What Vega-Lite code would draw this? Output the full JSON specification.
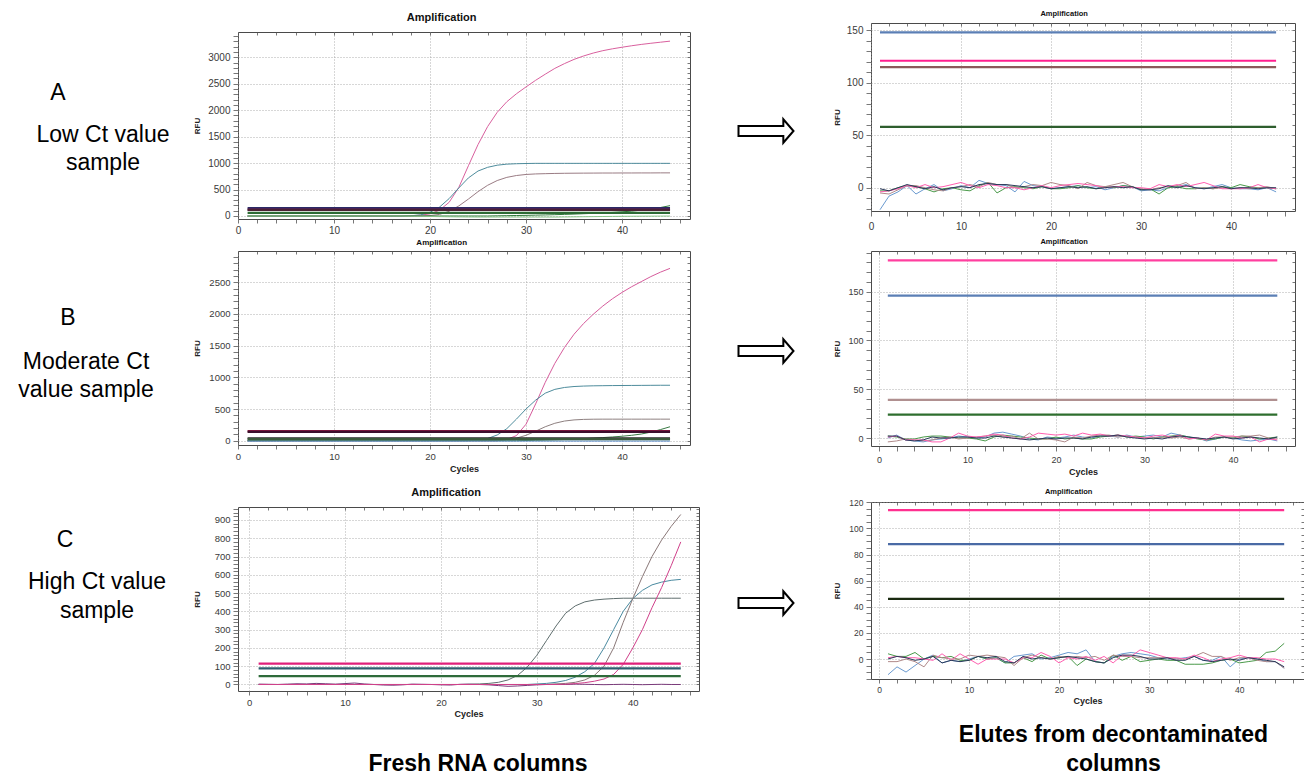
{
  "$schema": "https://vega.github.io/schema/vega-lite/v6.json",
  "padding": 0,
  "background": "white",
  "spacing": 0,
  "resolve": {"scale": {"color": "independent"}},
  "config": {
    "font": "Liberation Sans",
    "view": {"stroke": "#4a4a4a", "strokeWidth": 1},
    "axis": {"domain": false, "labelColor": "#3a3a3a", "tickColor": "#555", "tickWidth": 0.8, "gridColor": "#9a9a9a", "gridDash": [1, 2], "gridWidth": 0.8, "titleFontWeight": "bold", "titleColor": "#222", "labelFlush": false, "labelOverlap": false, "labelPadding": 2, "labelFont": "Liberation Sans", "titleFont": "Liberation Sans"},
    "title": {"fontWeight": "bold", "color": "#111", "anchor": "middle", "font": "Liberation Sans"}
  },
  "datasets": {
    "la": [
      {"x":1,"p":0,"t":0,"m":0,"g":0,"l":0},{"x":2,"p":0,"t":0,"m":0,"g":0,"l":0},{"x":3,"p":0,"t":0,"m":0,"g":0,"l":0},{"x":4,"p":0,"t":0,"m":0,"g":0,"l":0},{"x":5,"p":0,"t":0,"m":0,"g":0,"l":0},{"x":6,"p":0,"t":0,"m":0,"g":0,"l":0},{"x":7,"p":0,"t":0,"m":0,"g":0,"l":0},{"x":8,"p":0,"t":0,"m":0,"g":0,"l":0},{"x":9,"p":0,"t":0,"m":0,"g":0,"l":0},{"x":10,"p":0,"t":0,"m":0,"g":0,"l":0},{"x":11,"p":0,"t":0,"m":0,"g":0,"l":0},{"x":12,"p":0,"t":0,"m":0,"g":0,"l":0},{"x":13,"p":0,"t":0,"m":0,"g":0,"l":0},{"x":14,"p":0,"t":0,"m":0,"g":0,"l":0},{"x":15,"p":0,"t":0,"m":0,"g":0,"l":0},{"x":16,"p":0,"t":0,"m":0,"g":0,"l":0},
      {"x":17,"p":1,"t":0,"m":0,"g":0,"l":0},{"x":18,"p":5,"t":5,"m":0,"g":0,"l":-3},{"x":19,"p":15,"t":20,"m":0,"g":0,"l":-6},{"x":20,"p":40,"t":70,"m":8,"g":0,"l":-9},{"x":21,"p":110,"t":170,"m":30,"g":0,"l":-12},{"x":22,"p":260,"t":330,"m":90,"g":0,"l":-15},{"x":23,"p":540,"t":530,"m":190,"g":0,"l":-17},{"x":24,"p":950,"t":720,"m":320,"g":0,"l":-19},{"x":25,"p":1350,"t":850,"m":460,"g":0,"l":-20},{"x":26,"p":1690,"t":920,"m":580,"g":0,"l":-20},{"x":27,"p":1960,"t":960,"m":670,"g":3,"l":-20},{"x":28,"p":2160,"t":980,"m":730,"g":6,"l":-20},{"x":29,"p":2310,"t":988,"m":765,"g":9,"l":-20},{"x":30,"p":2440,"t":992,"m":785,"g":12,"l":-20},
      {"x":31,"p":2565,"t":995,"m":795,"g":16,"l":-20},{"x":32,"p":2680,"t":995,"m":800,"g":20,"l":-20},{"x":33,"p":2790,"t":995,"m":804,"g":25,"l":-20},{"x":34,"p":2880,"t":995,"m":807,"g":30,"l":-18},{"x":35,"p":2960,"t":995,"m":809,"g":36,"l":-16},{"x":36,"p":3025,"t":995,"m":810,"g":43,"l":-14},{"x":37,"p":3080,"t":995,"m":811,"g":50,"l":-12},{"x":38,"p":3125,"t":995,"m":812,"g":58,"l":-10},{"x":39,"p":3160,"t":995,"m":812,"g":67,"l":-8},{"x":40,"p":3190,"t":995,"m":813,"g":78,"l":-6},{"x":41,"p":3218,"t":995,"m":813,"g":92,"l":-5},{"x":42,"p":3243,"t":995,"m":814,"g":110,"l":-4},{"x":43,"p":3265,"t":995,"m":814,"g":132,"l":-3},{"x":44,"p":3285,"t":995,"m":815,"g":160,"l":-2},{"x":45,"p":3305,"t":995,"m":815,"g":195,"l":-1}
    ],
    "lat": [{"s":"T1","y":148},{"s":"T2","y":121},{"s":"T3","y":115},{"s":"T4","y":58}],
    "lb": [
      {"x":1,"p":0,"t":0,"m":0,"g":0,"b":-6},{"x":2,"p":0,"t":0,"m":0,"g":0,"b":-6},{"x":3,"p":0,"t":0,"m":0,"g":0,"b":-6},{"x":4,"p":0,"t":0,"m":0,"g":0,"b":-6},{"x":5,"p":0,"t":0,"m":0,"g":0,"b":-6},{"x":6,"p":0,"t":0,"m":0,"g":0,"b":-6},{"x":7,"p":0,"t":0,"m":0,"g":0,"b":-6},{"x":8,"p":0,"t":0,"m":0,"g":0,"b":-6},{"x":9,"p":0,"t":0,"m":0,"g":0,"b":-6},{"x":10,"p":0,"t":0,"m":0,"g":0,"b":-6},{"x":11,"p":0,"t":0,"m":0,"g":0,"b":-6},{"x":12,"p":0,"t":0,"m":0,"g":0,"b":-6},{"x":13,"p":0,"t":0,"m":0,"g":0,"b":-6},{"x":14,"p":0,"t":0,"m":0,"g":0,"b":-6},{"x":15,"p":0,"t":0,"m":0,"g":0,"b":-6},{"x":16,"p":0,"t":0,"m":0,"g":0,"b":-6},{"x":17,"p":0,"t":0,"m":0,"g":0,"b":-6},{"x":18,"p":0,"t":0,"m":0,"g":0,"b":-6},{"x":19,"p":0,"t":0,"m":0,"g":0,"b":-6},{"x":20,"p":0,"t":0,"m":0,"g":0,"b":-6},{"x":21,"p":0,"t":0,"m":0,"g":0,"b":-6},{"x":22,"p":0,"t":0,"m":0,"g":0,"b":-6},{"x":23,"p":0,"t":0,"m":0,"g":0,"b":-6},{"x":24,"p":0,"t":0,"m":0,"g":0,"b":-6},
      {"x":25,"p":0,"t":10,"m":0,"g":0,"b":-6},{"x":26,"p":0,"t":35,"m":0,"g":0,"b":-6},{"x":27,"p":0,"t":90,"m":0,"g":0,"b":-6},{"x":28,"p":20,"t":190,"m":15,"g":0,"b":-6},{"x":29,"p":80,"t":340,"m":40,"g":0,"b":-6},{"x":30,"p":260,"t":500,"m":85,"g":3,"b":-6},{"x":31,"p":580,"t":640,"m":150,"g":6,"b":-6},{"x":32,"p":920,"t":750,"m":220,"g":10,"b":-6},{"x":33,"p":1220,"t":810,"m":275,"g":14,"b":-6},{"x":34,"p":1470,"t":840,"m":310,"g":19,"b":-6},{"x":35,"p":1680,"t":855,"m":328,"g":25,"b":-6},{"x":36,"p":1850,"t":862,"m":336,"g":32,"b":-6},{"x":37,"p":1995,"t":866,"m":339,"g":40,"b":-6},{"x":38,"p":2125,"t":868,"m":340,"g":49,"b":-6},{"x":39,"p":2240,"t":870,"m":340,"g":59,"b":-6},{"x":40,"p":2340,"t":871,"m":340,"g":70,"b":-6},{"x":41,"p":2430,"t":872,"m":340,"g":85,"b":-6},{"x":42,"p":2510,"t":873,"m":340,"g":105,"b":-6},{"x":43,"p":2590,"t":874,"m":340,"g":135,"b":-6},{"x":44,"p":2660,"t":875,"m":340,"g":175,"b":-6},{"x":45,"p":2720,"t":875,"m":340,"g":220,"b":-6}
    ],
    "lbt": [{"s":"T1","y":150},{"s":"T2","y":138},{"s":"T3","y":35},{"s":"T4","y":24}],
    "lc": [
      {"x":1,"k":0,"t":0,"m":0,"p":0,"v":2},{"x":2,"k":0,"t":0,"m":0,"p":0,"v":1},{"x":3,"k":0,"t":0,"m":0,"p":0,"v":0},{"x":4,"k":0,"t":0,"m":0,"p":0,"v":2},{"x":5,"k":0,"t":0,"m":0,"p":0,"v":4},{"x":6,"k":0,"t":0,"m":0,"p":0,"v":3},{"x":7,"k":0,"t":0,"m":0,"p":0,"v":6},{"x":8,"k":0,"t":0,"m":0,"p":0,"v":4},{"x":9,"k":0,"t":0,"m":0,"p":0,"v":2},{"x":10,"k":0,"t":0,"m":0,"p":0,"v":5},{"x":11,"k":0,"t":0,"m":0,"p":0,"v":8},{"x":12,"k":0,"t":0,"m":0,"p":0,"v":3},{"x":13,"k":0,"t":0,"m":0,"p":0,"v":0},{"x":14,"k":0,"t":0,"m":0,"p":0,"v":-3},{"x":15,"k":0,"t":0,"m":0,"p":0,"v":-4},{"x":16,"k":0,"t":0,"m":0,"p":0,"v":-2},{"x":17,"k":0,"t":0,"m":0,"p":0,"v":2},{"x":18,"k":0,"t":0,"m":0,"p":0,"v":1},{"x":19,"k":0,"t":0,"m":0,"p":0,"v":0},{"x":20,"k":0,"t":0,"m":0,"p":0,"v":-2},{"x":21,"k":0,"t":0,"m":0,"p":0,"v":-3},{"x":22,"k":0,"t":0,"m":0,"p":0,"v":1},
      {"x":23,"k":1,"t":0,"m":0,"p":0,"v":2},{"x":24,"k":3,"t":0,"m":0,"p":0,"v":0},{"x":25,"k":6,"t":0,"m":0,"p":0,"v":-2},{"x":26,"k":12,"t":0,"m":0,"p":0,"v":-6},{"x":27,"k":25,"t":0,"m":0,"p":0,"v":-10},{"x":28,"k":50,"t":0,"m":0,"p":0,"v":-8},{"x":29,"k":95,"t":0,"m":0,"p":0,"v":-5},{"x":30,"k":160,"t":3,"m":0,"p":0,"v":-2},{"x":31,"k":240,"t":6,"m":0,"p":0,"v":0},{"x":32,"k":320,"t":12,"m":3,"p":0,"v":1},{"x":33,"k":390,"t":22,"m":6,"p":2,"v":0},{"x":34,"k":430,"t":40,"m":12,"p":5,"v":2},{"x":35,"k":452,"t":70,"m":25,"p":10,"v":1},{"x":36,"k":462,"t":115,"m":50,"p":18,"v":0},{"x":37,"k":467,"t":200,"m":100,"p":30,"v":-1},{"x":38,"k":470,"t":300,"m":200,"p":55,"v":0},{"x":39,"k":472,"t":400,"m":340,"p":110,"v":1},{"x":40,"k":472,"t":470,"m":470,"p":200,"v":0},{"x":41,"k":472,"t":515,"m":590,"p":300,"v":-1},{"x":42,"k":472,"t":545,"m":700,"p":420,"v":0},{"x":43,"k":472,"t":560,"m":790,"p":530,"v":1},{"x":44,"k":472,"t":570,"m":865,"p":650,"v":0},{"x":45,"k":472,"t":575,"m":930,"p":780,"v":0}
    ],
    "lct": [{"s":"T1","y":114},{"s":"T2","y":88},{"s":"T3","y":46}],
    "ra": [
      {"x":1,"b":-21,"g":-3,"r":-5,"p":-4,"k":-1},{"x":2,"b":-8,"g":-3,"r":-6,"p":-3,"k":-3},{"x":3,"b":-4,"g":0,"r":-2,"p":-1,"k":0},{"x":4,"b":2,"g":2,"r":2,"p":2,"k":3},{"x":5,"b":-6,"g":1,"r":2,"p":0,"k":1},{"x":6,"b":-1,"g":-1,"r":0,"p":3,"k":-1},{"x":7,"b":3,"g":-4,"r":-2,"p":0,"k":1},{"x":8,"b":-3,"g":-1,"r":-3,"p":1,"k":-2},{"x":9,"b":-1,"g":0,"r":0,"p":3,"k":0},{"x":10,"b":2,"g":-2,"r":1,"p":5,"k":1},
      {"x":11,"b":0,"g":-3,"r":3,"p":2,"k":0},{"x":12,"b":7,"g":2,"r":1,"p":0,"k":3},{"x":13,"b":4,"g":5,"r":5,"p":3,"k":4},{"x":14,"b":3,"g":-5,"r":3,"p":2,"k":3},{"x":15,"b":2,"g":0,"r":3,"p":0,"k":3},{"x":16,"b":-4,"g":1,"r":0,"p":0,"k":2},{"x":17,"b":6,"g":0,"r":1,"p":-2,"k":1},{"x":18,"b":2,"g":-1,"r":3,"p":0,"k":0},{"x":19,"b":1,"g":1,"r":2,"p":2,"k":1},{"x":20,"b":-1,"g":-1,"r":5,"p":0,"k":-1},
      {"x":21,"b":0,"g":-1,"r":3,"p":2,"k":0},{"x":22,"b":1,"g":0,"r":2,"p":3,"k":1},{"x":23,"b":2,"g":2,"r":-1,"p":4,"k":0},{"x":24,"b":0,"g":0,"r":5,"p":3,"k":1},{"x":25,"b":1,"g":-1,"r":2,"p":2,"k":-1},{"x":26,"b":-2,"g":1,"r":1,"p":0,"k":0},{"x":27,"b":0,"g":0,"r":3,"p":1,"k":1},{"x":28,"b":2,"g":2,"r":5,"p":1,"k":0},{"x":29,"b":1,"g":1,"r":1,"p":0,"k":1},{"x":30,"b":-3,"g":-2,"r":-1,"p":0,"k":-2},
      {"x":31,"b":-2,"g":-1,"r":-2,"p":-1,"k":-2},{"x":32,"b":-3,"g":-6,"r":0,"p":3,"k":-1},{"x":33,"b":0,"g":0,"r":1,"p":1,"k":2},{"x":34,"b":1,"g":1,"r":2,"p":3,"k":0},{"x":35,"b":3,"g":-1,"r":5,"p":1,"k":2},{"x":36,"b":0,"g":-1,"r":-1,"p":3,"k":0},{"x":37,"b":-1,"g":0,"r":0,"p":5,"k":-1},{"x":38,"b":1,"g":-1,"r":-1,"p":2,"k":0},{"x":39,"b":3,"g":1,"r":0,"p":-1,"k":1},{"x":40,"b":0,"g":0,"r":-1,"p":-1,"k":-1},
      {"x":41,"b":-1,"g":3,"r":0,"p":-1,"k":0},{"x":42,"b":-1,"g":1,"r":-1,"p":0,"k":0},{"x":43,"b":-2,"g":0,"r":0,"p":3,"k":-1},{"x":44,"b":0,"g":0,"r":1,"p":0,"k":0},{"x":45,"b":-4,"g":-1,"r":-1,"p":-1,"k":0}
    ],
    "rat": [{"s":"T1","y":148},{"s":"T2","y":121},{"s":"T3","y":115},{"s":"T4","y":58}],
    "rb": [
      {"x":1,"b":0,"g":2,"r":-4,"p":1,"k":2},{"x":2,"b":3,"g":1,"r":-3,"p":2,"k":2},{"x":3,"b":-2,"g":-1,"r":-1,"p":-2,"k":-2},{"x":4,"b":-3,"g":-1,"r":-2,"p":-2,"k":-3},{"x":5,"b":-4,"g":1,"r":-3,"p":-2,"k":-2},{"x":6,"b":-2,"g":2,"r":-2,"p":-4,"k":1},{"x":7,"b":-1,"g":2,"r":0,"p":-4,"k":0},{"x":8,"b":0,"g":1,"r":1,"p":0,"k":0},{"x":9,"b":2,"g":0,"r":-1,"p":5,"k":1},{"x":10,"b":1,"g":0,"r":0,"p":2,"k":1},
      {"x":11,"b":0,"g":-1,"r":1,"p":1,"k":0},{"x":12,"b":1,"g":-3,"r":2,"p":2,"k":0},{"x":13,"b":5,"g":1,"r":3,"p":4,"k":2},{"x":14,"b":6,"g":3,"r":1,"p":3,"k":1},{"x":15,"b":4,"g":2,"r":2,"p":0,"k":0},{"x":16,"b":2,"g":1,"r":-1,"p":-1,"k":-1},{"x":17,"b":-1,"g":0,"r":5,"p":1,"k":-2},{"x":18,"b":-2,"g":-1,"r":-1,"p":5,"k":-1},{"x":19,"b":1,"g":-1,"r":-1,"p":4,"k":0},{"x":20,"b":0,"g":1,"r":-2,"p":3,"k":-1},
      {"x":21,"b":1,"g":-1,"r":-4,"p":4,"k":0},{"x":22,"b":3,"g":0,"r":1,"p":2,"k":0},{"x":23,"b":1,"g":-1,"r":0,"p":5,"k":-1},{"x":24,"b":0,"g":-1,"r":2,"p":3,"k":1},{"x":25,"b":2,"g":1,"r":3,"p":4,"k":2},{"x":26,"b":2,"g":2,"r":3,"p":2,"k":2},{"x":27,"b":1,"g":3,"r":1,"p":3,"k":3},{"x":28,"b":3,"g":1,"r":2,"p":2,"k":1},{"x":29,"b":1,"g":2,"r":1,"p":1,"k":0},{"x":30,"b":2,"g":1,"r":0,"p":0,"k":-1},
      {"x":31,"b":3,"g":-1,"r":0,"p":2,"k":0},{"x":32,"b":1,"g":1,"r":1,"p":3,"k":-1},{"x":33,"b":5,"g":2,"r":0,"p":1,"k":1},{"x":34,"b":3,"g":3,"r":1,"p":3,"k":2},{"x":35,"b":1,"g":1,"r":-1,"p":-1,"k":1},{"x":36,"b":0,"g":-1,"r":0,"p":0,"k":0},{"x":37,"b":-3,"g":-2,"r":-2,"p":-2,"k":-1},{"x":38,"b":-1,"g":-1,"r":1,"p":4,"k":0},{"x":39,"b":1,"g":1,"r":1,"p":2,"k":1},{"x":40,"b":0,"g":0,"r":1,"p":2,"k":-1},
      {"x":41,"b":-2,"g":2,"r":2,"p":0,"k":0},{"x":42,"b":-3,"g":1,"r":2,"p":1,"k":1},{"x":43,"b":-2,"g":-1,"r":3,"p":-4,"k":0},{"x":44,"b":-1,"g":0,"r":0,"p":-1,"k":-1},{"x":45,"b":-3,"g":1,"r":-1,"p":-2,"k":1}
    ],
    "rbt": [{"s":"T1","y":182},{"s":"T2","y":146},{"s":"T3","y":39},{"s":"T4","y":24}],
    "rc": [
      {"x":1,"b":-12,"g":4,"r":-2,"p":1,"k":0},{"x":2,"b":-6,"g":2,"r":-2,"p":2,"k":2},{"x":3,"b":-10,"g":2,"r":0,"p":1,"k":1},{"x":4,"b":-5,"g":5,"r":-2,"p":1,"k":-1},{"x":5,"b":0,"g":0,"r":-6,"p":0,"k":0},{"x":6,"b":3,"g":2,"r":3,"p":-1,"k":2},{"x":7,"b":-3,"g":1,"r":1,"p":4,"k":-3},{"x":8,"b":-1,"g":2,"r":0,"p":-1,"k":-1},{"x":9,"b":-2,"g":-1,"r":0,"p":4,"k":-2},{"x":10,"b":0,"g":-1,"r":3,"p":0,"k":-1},
      {"x":11,"b":2,"g":2,"r":2,"p":-4,"k":2},{"x":12,"b":0,"g":0,"r":3,"p":0,"k":1},{"x":13,"b":1,"g":1,"r":2,"p":0,"k":2},{"x":14,"b":-3,"g":-3,"r":1,"p":0,"k":-2},{"x":15,"b":2,"g":-3,"r":-5,"p":-3,"k":-3},{"x":16,"b":3,"g":1,"r":1,"p":1,"k":2},{"x":17,"b":4,"g":-2,"r":3,"p":1,"k":0},{"x":18,"b":0,"g":3,"r":1,"p":5,"k":1},{"x":19,"b":1,"g":0,"r":0,"p":2,"k":0},{"x":20,"b":3,"g":1,"r":2,"p":-3,"k":1},
      {"x":21,"b":5,"g":2,"r":1,"p":1,"k":2},{"x":22,"b":4,"g":-5,"r":2,"p":0,"k":1},{"x":23,"b":7,"g":0,"r":1,"p":2,"k":0},{"x":24,"b":-2,"g":-2,"r":2,"p":-1,"k":-2},{"x":25,"b":-3,"g":-3,"r":-1,"p":2,"k":-3},{"x":26,"b":2,"g":3,"r":3,"p":-3,"k":1},{"x":27,"b":4,"g":-1,"r":2,"p":3,"k":3},{"x":28,"b":5,"g":2,"r":2,"p":2,"k":3},{"x":29,"b":4,"g":-2,"r":1,"p":7,"k":2},{"x":30,"b":3,"g":-1,"r":1,"p":5,"k":0},
      {"x":31,"b":1,"g":0,"r":1,"p":3,"k":0},{"x":32,"b":0,"g":-1,"r":1,"p":1,"k":1},{"x":33,"b":0,"g":-1,"r":0,"p":1,"k":-1},{"x":34,"b":1,"g":-4,"r":0,"p":0,"k":-1},{"x":35,"b":2,"g":-4,"r":2,"p":3,"k":2},{"x":36,"b":-1,"g":-4,"r":5,"p":1,"k":-1},{"x":37,"b":-1,"g":-3,"r":2,"p":-2,"k":-2},{"x":38,"b":2,"g":-1,"r":2,"p":0,"k":-1},{"x":39,"b":-6,"g":0,"r":-1,"p":1,"k":0},{"x":40,"b":0,"g":-3,"r":1,"p":3,"k":-1},
      {"x":41,"b":1,"g":-2,"r":1,"p":1,"k":1},{"x":42,"b":0,"g":-1,"r":-1,"p":1,"k":0},{"x":43,"b":-2,"g":5,"r":-2,"p":0,"k":-1},{"x":44,"b":-2,"g":6,"r":-2,"p":0,"k":-2},{"x":45,"b":-7,"g":12,"r":-7,"p":-2,"k":-6}
    ],
    "rct": [{"s":"T1","y":114},{"s":"T2","y":88},{"s":"T3","y":46}]
  },
  "hconcat": [
    {
      "spacing": 0,
      "bounds": "flush",
      "resolve": {"scale": {"color": "independent"}},
      "vconcat": [
        {"width": 192, "height": 225, "view": {"stroke": null},
         "data": {"values": [{"kind": "letter", "text": "A"}, {"kind": "desc", "text": ["Low Ct value", "sample"]}]},
         "mark": {"type": "text", "fontSize": 23, "lineHeight": 28, "color": "black", "baseline": "middle", "align": "center"},
         "encoding": {
           "x": {"field": "kind", "type": "nominal", "scale": {"domain": ["letter", "desc"], "range": [58, 103], "padding": 0}, "axis": null},
           "y": {"field": "kind", "type": "nominal", "scale": {"domain": ["letter", "desc"], "range": [93, 135], "padding": 0}, "axis": null},
           "text": {"field": "text"}
         }},
        {"width": 192, "height": 225, "view": {"stroke": null},
         "data": {"values": [{"kind": "letter", "text": "B"}, {"kind": "desc", "text": ["Moderate Ct", "value sample"]}]},
         "mark": {"type": "text", "fontSize": 23, "lineHeight": 28, "color": "black", "baseline": "middle", "align": "center"},
         "encoding": {
           "x": {"field": "kind", "type": "nominal", "scale": {"domain": ["letter", "desc"], "range": [68, 86], "padding": 0}, "axis": null},
           "y": {"field": "kind", "type": "nominal", "scale": {"domain": ["letter", "desc"], "range": [93, 137], "padding": 0}, "axis": null},
           "text": {"field": "text"}
         }},
        {"width": 192, "height": 225, "view": {"stroke": null},
         "data": {"values": [{"kind": "letter", "text": "C"}, {"kind": "desc", "text": ["High Ct value", "sample"]}]},
         "mark": {"type": "text", "fontSize": 23, "lineHeight": 29, "color": "black", "baseline": "middle", "align": "center"},
         "encoding": {
           "x": {"field": "kind", "type": "nominal", "scale": {"domain": ["letter", "desc"], "range": [65, 97], "padding": 0}, "axis": null},
           "y": {"field": "kind", "type": "nominal", "scale": {"domain": ["letter", "desc"], "range": [90, 132], "padding": 0}, "axis": null},
           "text": {"field": "text"}
         }}
      ]
    },
    {
      "spacing": 0,
      "bounds": "flush",
      "resolve": {"scale": {"color": "independent"}},
      "vconcat": [
        {"width": 10, "height": 32, "view": {"stroke": null}, "data": {"values": [{"e": 0}]}, "mark": {"type": "point", "opacity": 0}, "encoding": {}},
        {
          "width": 452, "height": 187,
          "title": {"text": "Amplification", "fontSize": 11, "frame": "bounds", "offset": 8},
          "layer": [
            {"data": {"name": "la"}, "transform": [{"fold": ["p", "t", "m", "g", "l"], "as": ["s", "y"]}],
             "mark": {"type": "line", "strokeWidth": 1, "clip": true},
             "encoding": {
               "x": {"field": "x", "type": "quantitative", "scale": {"domain": [0, 47.08], "nice": false, "zero": false},
                     "axis": {"orient": "bottom", "title": null, "values": [0,2,4,6,8,10,12,14,16,18,20,22,24,26,28,30,32,34,36,38,40,42,44,46], "labelExpr": "datum.value % 10 === 0 ? datum.label : ''", "format": "d", "tickSize": 4, "labelFontSize": 10, "grid": true, "gridOpacity": {"condition": {"test": "datum.value % 10 === 0", "value": 1}, "value": 0}}},
               "y": {"field": "y", "type": "quantitative", "scale": {"domain": [-57, 3478], "nice": false, "zero": false},
                     "axis": {"orient": "left", "title": "RFU", "values": [0,100,200,300,400,500,600,700,800,900,1000,1100,1200,1300,1400,1500,1600,1700,1800,1900,2000,2100,2200,2300,2400,2500,2600,2700,2800,2900,3000,3100,3200,3300,3400], "labelExpr": "datum.value % 500 === 0 ? datum.label : ''", "format": "d", "tickSize": 5, "labelPadding": 3, "labelFontSize": 10, "minExtent": 31, "maxExtent": 31, "titlePadding": 6, "titleFontSize": 8, "grid": true, "gridOpacity": {"condition": {"test": "datum.value % 500 === 0", "value": 1}, "value": 0}}},
               "color": {"field": "s", "type": "nominal", "scale": {"domain": ["p","t","m","g","l","T1","T2","T3","T4"], "range": ["#d9609e","#4e8c9c","#9a7c84","#2f7a3a","#86c486","#2b2a66","#6a1f5c","#4a1f33","#2d6b35"]}, "legend": null}
             }},
            {"data": {"name": "lat"}, "mark": {"type": "rule", "strokeWidth": 2.2},
             "encoding": {
               "x": {"datum": 1, "type": "quantitative", "axis": {"orient": "top", "title": null, "values": [0,2,4,6,8,10,12,14,16,18,20,22,24,26,28,30,32,34,36,38,40,42,44,46], "labels": false, "tickSize": -3, "grid": false}},
               "x2": {"datum": 45},
               "y": {"field": "y", "type": "quantitative", "axis": {"orient": "right", "title": null, "values": [0,100,200,300,400,500,600,700,800,900,1000,1100,1200,1300,1400,1500,1600,1700,1800,1900,2000,2100,2200,2300,2400,2500,2600,2700,2800,2900,3000,3100,3200,3300,3400], "labels": false, "tickSize": -3, "grid": false}},
               "color": {"field": "s", "type": "nominal", "scale": {"domain": ["p","t","m","g","l","T1","T2","T3","T4"], "range": ["#d9609e","#4e8c9c","#9a7c84","#2f7a3a","#86c486","#2b2a66","#6a1f5c","#4a1f33","#2d6b35"]}, "legend": null}
             }}
          ]
        },
        {"width": 10, "height": 32, "view": {"stroke": null}, "data": {"values": [{"e": 0}]}, "mark": {"type": "point", "opacity": 0}, "encoding": {}},
        {
          "width": 452, "height": 194,
          "title": {"text": "Amplification", "fontSize": 8, "frame": "bounds", "offset": 4},
          "layer": [
            {"data": {"name": "lb"}, "transform": [{"fold": ["p", "t", "m", "g", "b"], "as": ["s", "y"]}],
             "mark": {"type": "line", "strokeWidth": 1, "clip": true},
             "encoding": {
               "x": {"field": "x", "type": "quantitative", "scale": {"domain": [0, 47.08], "nice": false, "zero": false},
                     "axis": {"orient": "bottom", "title": "Cycles", "titleFontSize": 9, "titlePadding": 4, "values": [0,2,4,6,8,10,12,14,16,18,20,22,24,26,28,30,32,34,36,38,40,42,44,46], "labelExpr": "datum.value % 10 === 0 ? datum.label : ''", "format": "d", "tickSize": 4, "labelFontSize": 9.5, "grid": true, "gridOpacity": {"condition": {"test": "datum.value % 10 === 0", "value": 1}, "value": 0}}},
               "y": {"field": "y", "type": "quantitative", "scale": {"domain": [-68, 2994], "nice": false, "zero": false},
                     "axis": {"orient": "left", "title": "RFU", "values": [0,100,200,300,400,500,600,700,800,900,1000,1100,1200,1300,1400,1500,1600,1700,1800,1900,2000,2100,2200,2300,2400,2500,2600,2700,2800,2900], "labelExpr": "datum.value % 500 === 0 ? datum.label : ''", "format": "d", "tickSize": 5, "labelPadding": 3, "labelFontSize": 9.5, "minExtent": 31, "maxExtent": 31, "titlePadding": 6, "titleFontSize": 8, "grid": true, "gridOpacity": {"condition": {"test": "datum.value % 500 === 0", "value": 1}, "value": 0}}},
               "color": {"field": "s", "type": "nominal", "scale": {"domain": ["p","t","m","g","b","T1","T2","T3","T4"], "range": ["#d65c9c","#4e8c9c","#8e8080","#3a7a45","#5b8fd0","#8b1a40","#3d0f2d","#2a2a2a","#3b5b3b"]}, "legend": null}
             }},
            {"data": {"name": "lbt"}, "mark": {"type": "rule", "strokeWidth": 2.2},
             "encoding": {
               "x": {"datum": 1, "type": "quantitative", "axis": {"orient": "top", "title": null, "values": [0,2,4,6,8,10,12,14,16,18,20,22,24,26,28,30,32,34,36,38,40,42,44,46], "labels": false, "tickSize": -3, "grid": false}},
               "x2": {"datum": 45},
               "y": {"field": "y", "type": "quantitative", "axis": {"orient": "right", "title": null, "values": [0,100,200,300,400,500,600,700,800,900,1000,1100,1200,1300,1400,1500,1600,1700,1800,1900,2000,2100,2200,2300,2400,2500,2600,2700,2800,2900], "labels": false, "tickSize": -3, "grid": false}},
               "color": {"field": "s", "type": "nominal", "scale": {"domain": ["p","t","m","g","b","T1","T2","T3","T4"], "range": ["#d65c9c","#4e8c9c","#8e8080","#3a7a45","#5b8fd0","#8b1a40","#3d0f2d","#2a2a2a","#3b5b3b"]}, "legend": null}
             }}
          ]
        },
        {"width": 10, "height": 62, "view": {"stroke": null}, "data": {"values": [{"e": 0}]}, "mark": {"type": "point", "opacity": 0}, "encoding": {}},
        {
          "width": 461, "height": 184,
          "title": {"text": "Amplification", "fontSize": 11, "frame": "bounds", "offset": 6},
          "layer": [
            {"data": {"name": "lc"}, "transform": [{"fold": ["v", "k", "t", "m", "p"], "as": ["s", "y"]}],
             "mark": {"type": "line", "strokeWidth": 1, "clip": true},
             "encoding": {
               "x": {"field": "x", "type": "quantitative", "scale": {"domain": [-1.15, 46.9], "nice": false, "zero": false},
                     "axis": {"orient": "bottom", "title": "Cycles", "titleFontSize": 9, "titlePadding": 3, "values": [0,2,4,6,8,10,12,14,16,18,20,22,24,26,28,30,32,34,36,38,40,42,44,46], "labelExpr": "datum.value % 10 === 0 ? datum.label : ''", "format": "d", "tickSize": 4, "labelFontSize": 9.5, "grid": true, "gridOpacity": {"condition": {"test": "datum.value % 10 === 0", "value": 1}, "value": 0}}},
               "y": {"field": "y", "type": "quantitative", "scale": {"domain": [-35.6, 971], "nice": false, "zero": false},
                     "axis": {"orient": "left", "title": "RFU", "values": [0,20,40,60,80,100,120,140,160,180,200,220,240,260,280,300,320,340,360,380,400,420,440,460,480,500,520,540,560,580,600,620,640,660,680,700,720,740,760,780,800,820,840,860,880,900,920,940,960], "labelExpr": "datum.value % 100 === 0 ? datum.label : ''", "format": "d", "tickSize": 5, "labelPadding": 3, "labelFontSize": 9.5, "minExtent": 31, "maxExtent": 31, "titlePadding": 6, "titleFontSize": 8, "grid": true, "gridOpacity": {"condition": {"test": "datum.value % 100 === 0", "value": 1}, "value": 0}}},
               "color": {"field": "s", "type": "nominal", "scale": {"domain": ["k","t","m","p","v","T1","T2","T3"], "range": ["#5f6e6e","#4a8aa0","#8a7878","#d0408a","#7a3a7a","#e0207a","#2f5f6f","#2e6b3a"]}, "legend": null}
             }},
            {"data": {"name": "lct"}, "mark": {"type": "rule", "strokeWidth": 2.2},
             "encoding": {
               "x": {"datum": 1, "type": "quantitative", "axis": {"orient": "top", "title": null, "values": [0,2,4,6,8,10,12,14,16,18,20,22,24,26,28,30,32,34,36,38,40,42,44,46], "labels": false, "tickSize": -3, "grid": false}},
               "x2": {"datum": 45},
               "y": {"field": "y", "type": "quantitative", "axis": {"orient": "right", "title": null, "values": [0,20,40,60,80,100,120,140,160,180,200,220,240,260,280,300,320,340,360,380,400,420,440,460,480,500,520,540,560,580,600,620,640,660,680,700,720,740,760,780,800,820,840,860,880,900,920,940,960], "labels": false, "tickSize": -3, "grid": false}},
               "color": {"field": "s", "type": "nominal", "scale": {"domain": ["k","t","m","p","v","T1","T2","T3"], "range": ["#5f6e6e","#4a8aa0","#8a7878","#d0408a","#7a3a7a","#e0207a","#2f5f6f","#2e6b3a"]}, "legend": null}
             }}
          ]
        },
        {"width": 10, "height": 9, "view": {"stroke": null}, "data": {"values": [{"e": 0}]}, "mark": {"type": "point", "opacity": 0}, "encoding": {}},
        {"width": 461, "height": 75, "view": {"stroke": null},
         "data": {"values": [{"line": 1, "text": "Fresh RNA columns"}]},
         "mark": {"type": "text", "fontSize": 23, "fontWeight": "bold", "color": "black", "dx": 9.5, "baseline": "middle", "align": "center"},
         "encoding": {
           "y": {"field": "line", "type": "quantitative", "scale": {"domain": [0, 1], "range": [35, 64]}, "axis": null},
           "text": {"field": "text"}
         }}
      ]
    },
    {
      "spacing": 0,
      "bounds": "flush",
      "vconcat": [
        {"width": 132, "height": 262, "view": {"stroke": null}, "data": {"values": [{"panel": "A"}]},
         "mark": {"type": "point", "shape": "M -1 -0.185 L 0.63 -0.185 L 0.63 -0.426 L 1 0 L 0.63 0.426 L 0.63 0.185 L -1 0.185 Z", "size": 3025, "filled": true, "fill": "white", "stroke": "black", "strokeWidth": 2, "opacity": 1},
         "encoding": {}},
        {"width": 132, "height": 178, "view": {"stroke": null}, "data": {"values": [{"panel": "B"}]},
         "mark": {"type": "point", "shape": "M -1 -0.185 L 0.63 -0.185 L 0.63 -0.426 L 1 0 L 0.63 0.426 L 0.63 0.185 L -1 0.185 Z", "size": 3025, "filled": true, "fill": "white", "stroke": "black", "strokeWidth": 2, "opacity": 1},
         "encoding": {}},
        {"width": 132, "height": 326, "view": {"stroke": null}, "data": {"values": [{"panel": "C"}]},
         "mark": {"type": "point", "shape": "M -1 -0.185 L 0.63 -0.185 L 0.63 -0.426 L 1 0 L 0.63 0.426 L 0.63 0.185 L -1 0.185 Z", "size": 3025, "filled": true, "fill": "white", "stroke": "black", "strokeWidth": 2, "opacity": 1},
         "encoding": {}}
      ]
    },
    {
      "spacing": 0,
      "bounds": "flush",
      "resolve": {"scale": {"color": "independent"}},
      "vconcat": [
        {"width": 10, "height": 23, "view": {"stroke": null}, "data": {"values": [{"e": 0}]}, "mark": {"type": "point", "opacity": 0}, "encoding": {}},
        {
          "width": 424, "height": 188,
          "title": {"text": "Amplification", "fontSize": 7.5, "frame": "bounds", "offset": 5.5},
          "layer": [
            {"data": {"name": "ra"}, "transform": [{"fold": ["b", "g", "r", "p", "k"], "as": ["s", "y"]}],
             "mark": {"type": "line", "strokeWidth": 1, "clip": true},
             "encoding": {
               "x": {"field": "x", "type": "quantitative", "scale": {"domain": [0, 47.1], "nice": false, "zero": false},
                     "axis": {"orient": "bottom", "title": null, "values": [0,2,4,6,8,10,12,14,16,18,20,22,24,26,28,30,32,34,36,38,40,42,44,46], "labelExpr": "datum.value % 10 === 0 ? datum.label : ''", "format": "d", "tickSize": 5, "labelPadding": 5, "labelFontSize": 10, "grid": true, "gridOpacity": {"condition": {"test": "datum.value % 10 === 0", "value": 1}, "value": 0}}},
               "y": {"field": "y", "type": "quantitative", "scale": {"domain": [-22.2, 157], "nice": false, "zero": false},
                     "axis": {"orient": "left", "title": "RFU", "values": [-20,-10,0,10,20,30,40,50,60,70,80,90,100,110,120,130,140,150], "labelExpr": "datum.value % 50 === 0 ? datum.label : ''", "format": "d", "tickSize": 5, "labelPadding": 3, "labelFontSize": 10, "minExtent": 26, "maxExtent": 26, "titlePadding": 4, "titleFontSize": 8, "grid": true, "gridOpacity": {"condition": {"test": "datum.value % 50 === 0", "value": 1}, "value": 0}}},
               "color": {"field": "s", "type": "nominal", "scale": {"domain": ["b","g","r","p","k","T1","T2","T3","T4"], "range": ["#6a9ad0","#4a9a4a","#b08a8a","#ff5fb0","#2a3a5a","#5b7fb5","#ff1f8f","#8b5a5a","#2e5e2e"]}, "legend": null}
             }},
            {"data": {"name": "rat"}, "mark": {"type": "rule", "strokeWidth": 2.2},
             "encoding": {
               "x": {"datum": 1, "type": "quantitative", "axis": {"orient": "top", "title": null, "values": [0,2,4,6,8,10,12,14,16,18,20,22,24,26,28,30,32,34,36,38,40,42,44,46], "labels": false, "tickSize": -3, "grid": false}},
               "x2": {"datum": 45},
               "y": {"field": "y", "type": "quantitative", "axis": {"orient": "right", "title": null, "values": [-20,-10,0,10,20,30,40,50,60,70,80,90,100,110,120,130,140,150], "labels": false, "tickSize": -3, "grid": false}},
               "color": {"field": "s", "type": "nominal", "scale": {"domain": ["b","g","r","p","k","T1","T2","T3","T4"], "range": ["#6a9ad0","#4a9a4a","#b08a8a","#ff5fb0","#2a3a5a","#5b7fb5","#ff1f8f","#8b5a5a","#2e5e2e"]}, "legend": null}
             }}
          ]
        },
        {"width": 10, "height": 40, "view": {"stroke": null}, "data": {"values": [{"e": 0}]}, "mark": {"type": "point", "opacity": 0}, "encoding": {}},
        {
          "width": 424, "height": 195,
          "title": {"text": "Amplification", "fontSize": 7.5, "frame": "bounds", "offset": 3},
          "layer": [
            {"data": {"name": "rb"}, "transform": [{"fold": ["b", "g", "r", "p", "k"], "as": ["s", "y"]}],
             "mark": {"type": "line", "strokeWidth": 1, "clip": true},
             "encoding": {
               "x": {"field": "x", "type": "quantitative", "scale": {"domain": [-0.9, 47], "nice": false, "zero": false},
                     "axis": {"orient": "bottom", "title": "Cycles", "titleFontSize": 9, "titlePadding": 3, "values": [0,2,4,6,8,10,12,14,16,18,20,22,24,26,28,30,32,34,36,38,40,42,44,46], "labelExpr": "datum.value % 10 === 0 ? datum.label : ''", "format": "d", "tickSize": 5, "labelPadding": 4, "labelFontSize": 9, "grid": true, "gridOpacity": {"condition": {"test": "datum.value % 10 === 0", "value": 1}, "value": 0}}},
               "y": {"field": "y", "type": "quantitative", "scale": {"domain": [-8.2, 191.7], "nice": false, "zero": false},
                     "axis": {"orient": "left", "title": "RFU", "values": [0,10,20,30,40,50,60,70,80,90,100,110,120,130,140,150,160,170,180,190], "labelExpr": "datum.value % 50 === 0 ? datum.label : ''", "format": "d", "tickSize": 5, "labelPadding": 3, "labelFontSize": 9, "minExtent": 26, "maxExtent": 26, "titlePadding": 4, "titleFontSize": 8, "grid": true, "gridOpacity": {"condition": {"test": "datum.value % 50 === 0", "value": 1}, "value": 0}}},
               "color": {"field": "s", "type": "nominal", "scale": {"domain": ["b","g","r","p","k","T1","T2","T3","T4"], "range": ["#6a9ad0","#4a9a4a","#b08a8a","#ff5fb0","#2a3a5a","#ff3f9f","#5b7fb5","#b09090","#2e6e2e"]}, "legend": null}
             }},
            {"data": {"name": "rbt"}, "mark": {"type": "rule", "strokeWidth": 2.2},
             "encoding": {
               "x": {"datum": 1, "type": "quantitative", "axis": {"orient": "top", "title": null, "values": [0,2,4,6,8,10,12,14,16,18,20,22,24,26,28,30,32,34,36,38,40,42,44,46], "labels": false, "tickSize": -3, "grid": false}},
               "x2": {"datum": 45},
               "y": {"field": "y", "type": "quantitative", "axis": {"orient": "right", "title": null, "values": [0,10,20,30,40,50,60,70,80,90,100,110,120,130,140,150,160,170,180,190], "labels": false, "tickSize": -3, "grid": false}},
               "color": {"field": "s", "type": "nominal", "scale": {"domain": ["b","g","r","p","k","T1","T2","T3","T4"], "range": ["#6a9ad0","#4a9a4a","#b08a8a","#ff5fb0","#2a3a5a","#ff3f9f","#5b7fb5","#b09090","#2e6e2e"]}, "legend": null}
             }}
          ]
        },
        {"width": 10, "height": 56, "view": {"stroke": null}, "data": {"values": [{"e": 0}]}, "mark": {"type": "point", "opacity": 0}, "encoding": {}},
        {
          "width": 433, "height": 177,
          "title": {"text": "Amplification", "fontSize": 7.5, "frame": "bounds", "offset": 3},
          "layer": [
            {"data": {"name": "rc"}, "transform": [{"fold": ["b", "g", "r", "p", "k"], "as": ["s", "y"]}],
             "mark": {"type": "line", "strokeWidth": 1, "clip": true},
             "encoding": {
               "x": {"field": "x", "type": "quantitative", "scale": {"domain": [-0.89, 47.2], "nice": false, "zero": false},
                     "axis": {"orient": "bottom", "title": "Cycles", "titleFontSize": 9, "titlePadding": 3, "values": [0,2,4,6,8,10,12,14,16,18,20,22,24,26,28,30,32,34,36,38,40,42,44,46], "labelExpr": "datum.value % 10 === 0 ? datum.label : ''", "format": "d", "tickSize": 4, "labelPadding": 2, "labelFontSize": 8.5, "grid": true, "gridOpacity": {"condition": {"test": "datum.value % 10 === 0", "value": 1}, "value": 0}}},
               "y": {"field": "y", "type": "quantitative", "scale": {"domain": [-15.3, 120.2], "nice": false, "zero": false},
                     "axis": {"orient": "left", "title": "RFU", "values": [-15,-10,-5,0,5,10,15,20,25,30,35,40,45,50,55,60,65,70,75,80,85,90,95,100,105,110,115,120], "labelExpr": "datum.value % 20 === 0 ? datum.label : ''", "format": "d", "tickSize": 5, "labelPadding": 3, "labelFontSize": 8.5, "minExtent": 26, "maxExtent": 26, "titlePadding": 4, "titleFontSize": 8, "grid": true, "gridOpacity": {"condition": {"test": "datum.value % 20 === 0", "value": 1}, "value": 0}}},
               "color": {"field": "s", "type": "nominal", "scale": {"domain": ["b","g","r","p","k","T1","T2","T3"], "range": ["#6a9ad0","#4a9a4a","#b08a8a","#ff5fb0","#2a3a5a","#ff2f8f","#4a6aa5","#1a2a10"]}, "legend": null}
             }},
            {"data": {"name": "rct"}, "mark": {"type": "rule", "strokeWidth": 2.2},
             "encoding": {
               "x": {"datum": 1, "type": "quantitative", "axis": {"orient": "top", "title": null, "values": [0,2,4,6,8,10,12,14,16,18,20,22,24,26,28,30,32,34,36,38,40,42,44,46], "labels": false, "tickSize": -3, "grid": false}},
               "x2": {"datum": 45},
               "y": {"field": "y", "type": "quantitative", "axis": {"orient": "right", "title": null, "values": [-15,-10,-5,0,5,10,15,20,25,30,35,40,45,50,55,60,65,70,75,80,85,90,95,100,105,110,115,120], "labels": false, "tickSize": -3, "grid": false}},
               "color": {"field": "s", "type": "nominal", "scale": {"domain": ["b","g","r","p","k","T1","T2","T3"], "range": ["#6a9ad0","#4a9a4a","#b08a8a","#ff5fb0","#2a3a5a","#ff2f8f","#4a6aa5","#1a2a10"]}, "legend": null}
             }}
          ]
        },
        {"width": 10, "height": 21, "view": {"stroke": null}, "data": {"values": [{"e": 0}]}, "mark": {"type": "point", "opacity": 0}, "encoding": {}},
        {"width": 433, "height": 75, "view": {"stroke": null},
         "data": {"values": [{"line": 0, "text": "Elutes from decontaminated"}, {"line": 1, "text": "columns"}]},
         "mark": {"type": "text", "fontSize": 23, "fontWeight": "bold", "color": "black", "dx": 26, "baseline": "middle", "align": "center"},
         "encoding": {
           "y": {"field": "line", "type": "quantitative", "scale": {"domain": [0, 1], "range": [35, 64]}, "axis": null},
           "text": {"field": "text"}
         }}
      ]
    }
  ]
}
